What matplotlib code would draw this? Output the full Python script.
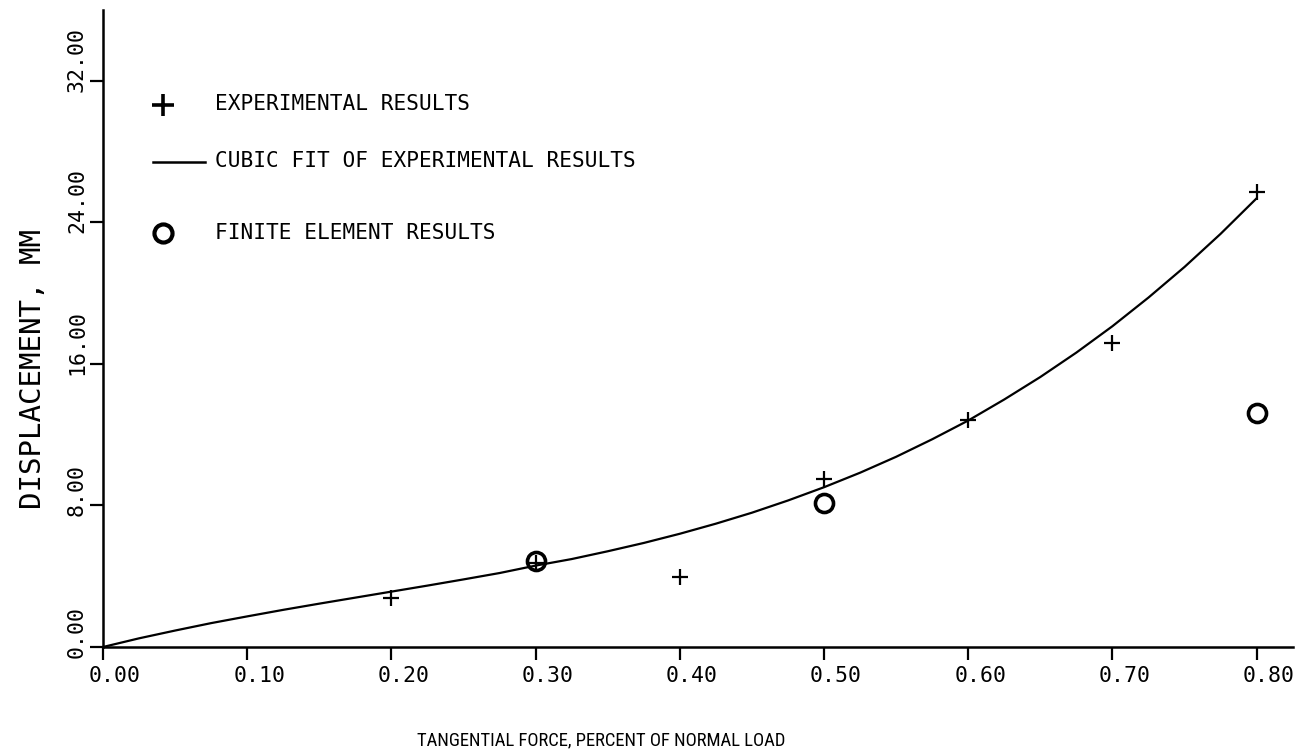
import matplotlib
matplotlib.use("Agg")
import matplotlib.pyplot as plt
import matplotlib.transforms as mtransforms
from matplotlib.lines import Line2D

# ---- data ----
exp_x = [0.2, 0.3, 0.4, 0.5, 0.6, 0.7, 0.8]
exp_y = [2.75, 4.75, 3.94, 9.5, 12.83, 17.2, 25.7]

fe_x = [0.3, 0.5, 0.8]
fe_y = [4.88, 8.16, 13.21]

fit_x = [0.0, 0.025, 0.05, 0.075, 0.10, 0.125, 0.15, 0.175, 0.20, 0.225,
         0.25, 0.275, 0.30, 0.325, 0.35, 0.375, 0.40, 0.425, 0.45, 0.475,
         0.50, 0.525, 0.55, 0.575, 0.60, 0.625, 0.65, 0.675, 0.70, 0.725,
         0.75, 0.775, 0.80]
fit_y = [0.0, 0.49, 0.93, 1.35, 1.73, 2.10, 2.45, 2.79, 3.13, 3.47,
         3.82, 4.18, 4.60, 4.97, 5.41, 5.88, 6.40, 6.97, 7.59, 8.28,
         9.03, 9.85, 10.75, 11.74, 12.80, 13.99, 15.26, 16.64, 18.13, 19.75,
         21.48, 23.35, 25.36]

xticks = [0.0, 0.1, 0.2, 0.3, 0.4, 0.5, 0.6, 0.7, 0.8]
xticklabels = ["0.00", "0.10", "0.20", "0.30", "0.40", "0.50", "0.60", "0.70", "0.80"]
yticks = [0, 8, 16, 24, 32]
yticklabels = ["0.00", "8.00", "16.00", "24.00", "32.00"]

legend_labels = ["EXPERIMENTAL RESULTS", "CUBIC FIT OF EXPERIMENTAL RESULTS",
                 "FINITE ELEMENT RESULTS"]
xlabel = "TANGENTIAL FORCE, PERCENT OF NORMAL LOAD"
ylabel = "DISPLACEMENT, MM"

NARROW = ["Roboto Condensed", "DejaVu Sans"]
MONO = ["DejaVu Sans Mono", "DejaVu Sans"]

W, H = 1313, 750
fig = plt.figure(figsize=(W / 100, H / 100), dpi=100)
ax = fig.add_axes([103 / W, 1 - 647 / H, (1293 - 103) / W, (647 - 10) / H])

ax.plot(fit_x, fit_y, color="black", lw=1.6, solid_capstyle="round",
        solid_joinstyle="round")
ax.plot(exp_x, exp_y, linestyle="none", marker="+", ms=12, mew=1.6, color="black")
ax.plot(fe_x, fe_y, linestyle="none", marker="o", ms=13, mew=2.6,
        mfc="none", mec="black")

ax.set_xlim(0, 0.8252)
ax.set_ylim(0, 36.0)

for s in ["top", "right"]:
    ax.spines[s].set_visible(False)
for s in ["left", "bottom"]:
    ax.spines[s].set_linewidth(1.8)

ax.set_xticks(xticks)
ax.set_xticklabels(xticklabels, fontsize=15.5, family=MONO)
ax.set_yticks(yticks)
ax.set_yticklabels(yticklabels, fontsize=15.5, family=MONO)
ax.tick_params(axis="both", direction="out", length=9.4, width=1.6, pad=0)

dpi_t = fig.dpi_scale_trans
for lab in ax.get_xticklabels():
    lab.set_ha("left")
    lab.set_va("center")
    lab.set_transform(lab.get_transform() +
                      mtransforms.ScaledTranslation(-14 / 100, -15.5 / 100, dpi_t))
for lab in ax.get_yticklabels():
    lab.set_rotation(90)
    lab.set_rotation_mode("anchor")
    lab.set_ha("left")
    lab.set_va("center")
    lab.set_transform(lab.get_transform() +
                      mtransforms.ScaledTranslation(-13 / 100, -11 / 100, dpi_t))

# axis titles
fig.text(601 / W, 1 - 740 / H, xlabel, ha="center", va="center",
         fontsize=13.4, family=NARROW, stretch="condensed")
fig.text(33 / W, 1 - 369 / H, ylabel, ha="center", va="center", rotation=90,
         fontsize=21, family=MONO)

# manual legend (figure pixel coordinates converted to fractions)
def fx(px):
    return px / W

def fy(py):
    return 1 - py / H

fig.add_artist(Line2D([fx(163)], [fy(105)], marker="+", ms=16, mew=2.6,
                      color="black", linestyle="none"))
fig.add_artist(Line2D([fx(153), fx(205)], [fy(162), fy(162)], lw=1.8,
                      color="black"))
fig.add_artist(Line2D([fx(163)], [fy(233)], marker="o", ms=13, mew=3,
                      mfc="none", mec="black", linestyle="none"))
for py, txt in zip([104, 161, 233], legend_labels):
    fig.text(fx(215), fy(py), txt, ha="left", va="center", fontsize=15.2,
             family=MONO)

fig.savefig("out.png", dpi=100)
